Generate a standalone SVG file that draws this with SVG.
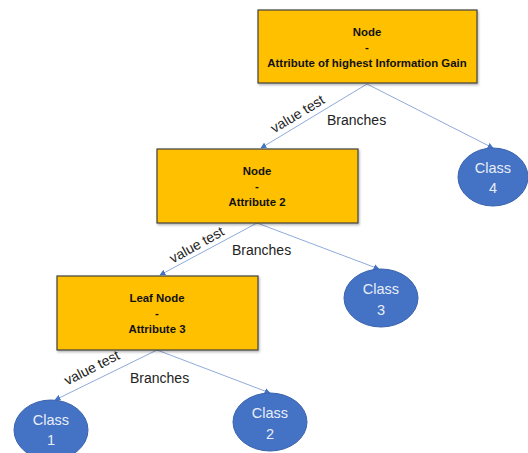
<svg xmlns="http://www.w3.org/2000/svg" width="528" height="453" viewBox="0 0 528 453">
<defs>
<style>
.box{fill:#FFC000;stroke:#404040;stroke-width:1.2}
.cls{fill:#4472C4;stroke:#3A63AE;stroke-width:1}
.bt{font-family:"Liberation Sans",Arial,sans-serif;font-weight:bold;font-size:11.4px;fill:#111;text-anchor:middle}
.ct{font-family:"Liberation Sans",Arial,sans-serif;font-size:14.5px;fill:#E8EEF8;text-anchor:middle}
.lb{font-family:"Liberation Sans",Arial,sans-serif;font-size:14px;fill:#222}
.edge{stroke:#8FAADC;stroke-width:1;fill:none}
</style>
<marker id="arr" viewBox="0 0 10 10" refX="9" refY="5" markerWidth="6" markerHeight="6" orient="auto" markerUnits="userSpaceOnUse">
<path d="M0,0 L10,5 L0,10 z" fill="#4472C4"/>
</marker>
<filter id="sh" x="-5%" y="-5%" width="115%" height="120%">
<feDropShadow dx="1" dy="1.5" stdDeviation="1.2" flood-color="#000" flood-opacity="0.3"/>
</filter>
</defs>
<g id="connectors">
<line class="edge" x1="367" y1="84" x2="261" y2="148" marker-end="url(#arr)"/>
<line class="edge" x1="367" y1="84" x2="493" y2="148" marker-end="url(#arr)"/>
<line class="edge" x1="257" y1="223" x2="160" y2="275" marker-end="url(#arr)"/>
<line class="edge" x1="257" y1="223" x2="379" y2="269" marker-end="url(#arr)"/>
<line class="edge" x1="157" y1="350" x2="55" y2="400" marker-end="url(#arr)"/>
<line class="edge" x1="157" y1="350" x2="270" y2="393" marker-end="url(#arr)"/>
<text class="lb" transform="translate(300,118) rotate(-31)" text-anchor="middle">value test</text>
<text class="lb" x="327" y="125">Branches</text>
<text class="lb" transform="translate(199,249) rotate(-29)" text-anchor="middle">value test</text>
<text class="lb" x="232" y="255">Branches</text>
<text class="lb" transform="translate(94,372) rotate(-27)" text-anchor="middle">value test</text>
<text class="lb" x="130" y="383">Branches</text>
</g>
<g id="node-root">
<rect class="box" x="258" y="10" width="219" height="73" filter="url(#sh)"/>
<text class="bt" x="367" y="36">Node</text>
<text class="bt" x="367" y="51">-</text>
<text class="bt" x="367" y="67">Attribute of highest Information Gain</text>
</g>
<g id="node-attr2">
<rect class="box" x="157" y="149" width="201" height="74" filter="url(#sh)"/>
<text class="bt" x="257" y="175">Node</text>
<text class="bt" x="257" y="190">-</text>
<text class="bt" x="257" y="206">Attribute 2</text>
</g>
<g id="node-attr3">
<rect class="box" x="57" y="276" width="201" height="74" filter="url(#sh)"/>
<text class="bt" x="157" y="302">Leaf Node</text>
<text class="bt" x="157" y="317">-</text>
<text class="bt" x="157" y="333">Attribute 3</text>
</g>
<g id="class4">
<ellipse class="cls" cx="493" cy="177" rx="35" ry="29"/>
<text class="ct" x="493" y="173">Class</text>
<text class="ct" x="493" y="193">4</text>
</g>
<g id="class3">
<ellipse class="cls" cx="381" cy="298" rx="37" ry="29"/>
<text class="ct" x="381" y="294">Class</text>
<text class="ct" x="381" y="315">3</text>
</g>
<g id="class1">
<ellipse class="cls" cx="51" cy="430" rx="37" ry="30"/>
<text class="ct" x="51" y="425">Class</text>
<text class="ct" x="51" y="445">1</text>
</g>
<g id="class2">
<ellipse class="cls" cx="270" cy="422" rx="37" ry="29"/>
<text class="ct" x="270" y="418">Class</text>
<text class="ct" x="270" y="439">2</text>
</g>
</svg>
